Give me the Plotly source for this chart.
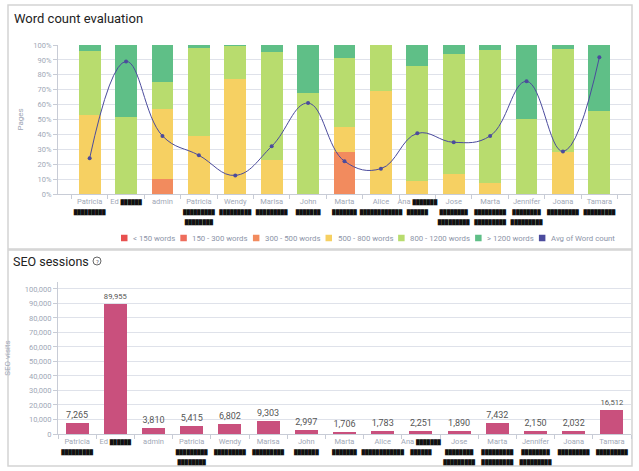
import plotly.graph_objects as go

W, H = 639, 471

authors = ["Patricia", "Ed", "admin", "Patricia", "Wendy", "Marisa", "John", "Marta",
           "Alice", "Ana", "Jose", "Marta", "Jennifer", "Joana", "Tamara"]
# redacted surname fragments (shown as black marks), per author: (same-line, extra lines)
same_line_mark = [0, 6, 0, 0, 0, 0, 0, 0, 0, 7, 0, 0, 0, 0, 0]
extra_lines = [[9], [], [], [9, 8], [9], [9], [7], [7], [12], [6], [8, 9], [9, 9], [8, 9], [9], [9]]

# word count distribution (% of pages)
lt150 = [0] * 15
w150_300 = [0] * 15
w300_500 = [0, 0, 10, 0, 0, 0, 0, 28.5, 0, 0, 0, 0, 0, 0, 0]
w500_800 = [53, 0, 47, 39, 77, 22.5, 0, 16.5, 69, 8.7, 13.6, 7.4, 0, 28, 0]
w800_1200 = [43, 52, 18.5, 59, 22.5, 72.5, 67.5, 46.5, 31, 77.3, 80.4, 89, 50.5, 69.3, 55.7]
wgt1200 = [4, 48, 24.5, 2, 0.5, 5, 32.5, 8.5, 0, 14, 6, 3.6, 49.5, 2.7, 44.3]
avg_wc = [24, 89, 39, 26, 12.5, 32, 61, 22, 17, 40.7, 34.7, 39, 75.6, 28.6, 91.7]

seo_visits = [7265, 89955, 3810, 5415, 6802, 9303, 2997, 1706, 1783, 2251, 1890, 7432, 2150, 2032, 16512]

series = [("< 150 words", lt150, "#e8504f"),
          ("150 - 300 words", w150_300, "#ee6d5c"),
          ("300 - 500 words", w300_500, "#f28b5e"),
          ("500 - 800 words", w500_800, "#f6d062"),
          ("800 - 1200 words", w800_1200, "#b8dc6e"),
          ("> 1200 words", wgt1200, "#5fbf87")]
avg_name, avg_color = "Avg of Word count", "#4b4b9d"

def mark(n):
    return "<span style='color:#111;font-size:5px'>" + "\u2588" * n + "</span>"

cats = []
for i, a in enumerate(authors):
    s = a
    if same_line_mark[i]:
        s += " " + mark(same_line_mark[i])
    for n in extra_lines[i]:
        s += "<br>" + mark(n)
    s += "\u200b" * i  # keep categories unique
    cats.append(s)

fig = go.Figure()
for name, vals, col in series:
    fig.add_trace(go.Bar(x=cats, y=vals, name=name, marker=dict(color=col, line=dict(width=0)),
                         width=0.6, xaxis="x", yaxis="y", showlegend=False))
fig.add_trace(go.Scatter(x=cats, y=avg_wc, name=avg_name, mode="lines+markers",
                         line=dict(color=avg_color, width=1, shape="spline", smoothing=1.2),
                         marker=dict(size=4, color=avg_color), xaxis="x", yaxis="y",
                         showlegend=False))
fig.add_trace(go.Bar(x=cats, y=seo_visits, name="SEO visits", showlegend=False,
                     marker=dict(color="#c9507d", line=dict(width=0)), width=0.6,
                     text=[f"{v:,}" for v in seo_visits], textposition="outside",
                     textfont=dict(size=9, color="#555"), cliponaxis=False,
                     xaxis="x2", yaxis="y2"))

xd = [58 / W, 631 / W]
tickfont = dict(size=7.5, color="#a0a7b6")
axis_x = dict(type="category", domain=xd, showgrid=False, showline=True, linecolor="#c8ccd6",
              ticks="outside", tickson="boundaries", ticklen=4, tickcolor="#c8ccd6",
              tickfont=tickfont, automargin=False, tickangle=0)
fig.update_layout(
    width=W, height=H, margin=dict(l=0, r=0, t=0, b=0),
    paper_bgcolor="white", plot_bgcolor="white",
    font=dict(family="Roboto, Arial, sans-serif"),
    barmode="stack", bargap=0.4, showlegend=False,
    xaxis=dict(axis_x, anchor="y"),
    yaxis=dict(domain=[(H - 194) / H, (H - 45) / H], range=[0, 100], dtick=10,
               ticksuffix="%", tickfont=tickfont, gridcolor="#dfe2ea", showline=True,
               linecolor="#c8ccd6", ticks="outside", ticklen=4, tickcolor="#c8ccd6",
               zeroline=False, automargin=False,
               title=dict(text="Pages", font=dict(size=8, color="#a0a7b6"), standoff=8)),
    xaxis2=dict(axis_x, anchor="y2"),
    yaxis2=dict(domain=[(H - 434) / H, (H - 282) / H], range=[0, 104800],
                tickvals=list(range(0, 100001, 10000)), tickformat=",", tickfont=tickfont,
                gridcolor="#dfe2ea", showline=True, linecolor="#c8ccd6", ticks="outside",
                ticklen=4, tickcolor="#c8ccd6", zeroline=False, automargin=False,
                title=dict(text="SEO visits", font=dict(size=8, color="#a0a7b6"), standoff=12)),
)

# legend (horizontal row of squares + labels)
em = {"<": 0.508, ">": 0.52, " ": 0.248, "-": 0.276, "w": 0.75, "o": 0.57, "r": 0.34,
      "d": 0.56, "s": 0.516, "A": 0.65, "v": 0.48, "g": 0.56, "f": 0.35, "W": 0.89,
      "c": 0.52, "u": 0.55, "n": 0.55, "t": 0.33}
LEG_FS = 7.8
def text_w(s, size=LEG_FS):
    return sum(em.get(ch, 0.562) for ch in s) * size

legend_items = [(n, c) for n, _, c in series] + [(avg_name, avg_color)]
lx, ly = 121, 238
for name, col in legend_items:
    fig.add_shape(type="rect", xref="paper", yref="paper", x0=lx / W, x1=(lx + 6.5) / W,
                  y0=(H - ly - 3.25) / H, y1=(H - ly + 3.25) / H, fillcolor=col,
                  line=dict(width=0))
    fig.add_annotation(text=name, xref="paper", yref="paper", x=(lx + 10) / W, y=(H - ly) / H,
                       xanchor="left", yanchor="middle", showarrow=False,
                       font=dict(size=LEG_FS, color="#8d95a8"))
    lx += 10 + text_w(name) + 7

# panels
border = dict(color="#d4d4d4", width=1.5)
fig.add_shape(type="rect", xref="paper", yref="paper", x0=8 / W, x1=632 / W,
              y0=(H - 249) / H, y1=(H - 5) / H, line=border, layer="below")
fig.add_shape(type="rect", xref="paper", yref="paper", x0=8 / W, x1=632 / W,
              y0=(H - 466) / H, y1=(H - 250) / H, line=border, layer="below")

fig.add_annotation(text="Word count evaluation", xref="paper", yref="paper", x=12 / W,
                   y=(H - 19) / H, xanchor="left", yanchor="middle", showarrow=False,
                   font=dict(size=13, color="#222"))
fig.add_annotation(text="SEO sessions", xref="paper", yref="paper", x=11 / W,
                   y=(H - 261) / H, xanchor="left", yanchor="middle", showarrow=False,
                   font=dict(size=12.5, color="#222"))
fig.add_shape(type="circle", xref="paper", yref="paper", x0=93 / W, x1=101 / W,
              y0=(H - 265) / H, y1=(H - 257) / H, line=dict(color="#666", width=1))
fig.add_annotation(text="?", xref="paper", yref="paper", x=97 / W, y=(H - 261) / H,
                   xanchor="center", yanchor="middle", showarrow=False,
                   font=dict(size=6, color="#666"))

fig.write_html("out.html", config={"displayModeBar": False},
               post_script="document.body.style.margin='0';")
